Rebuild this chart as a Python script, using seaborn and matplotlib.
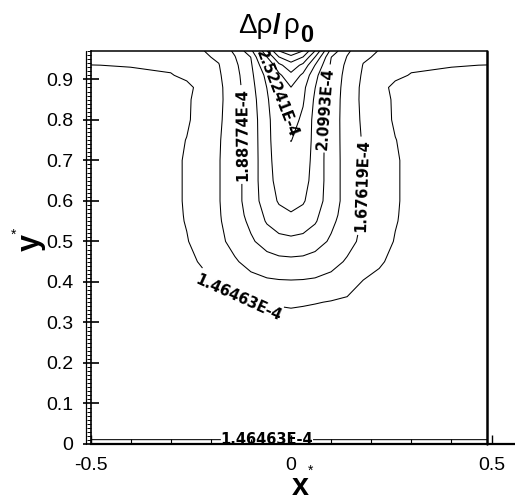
import numpy as np
import matplotlib
matplotlib.use("Agg")
import matplotlib.pyplot as plt
import seaborn as sns
from matplotlib.transforms import ScaledTranslation

# ---------------- data ----------------
# contour levels of delta-rho / rho0, in units of 1E-4
levels = [1.46463, 1.67619, 1.88774, 2.0993, 2.31085,
          2.52241, 2.73396, 2.94552, 3.15707, 3.36863]
level_step = 0.211555

# grid of the right half of the cavity (field is mirrored about x* = 0)
x_half = [0, 0.03, 0.06, 0.1, 0.14, 0.18, 0.22, 0.26, 0.3, 0.4, 0.5]
y_rows = [0, 0.025, 0.2, 0.3, 0.35, 0.4, 0.45, 0.5, 0.55, 0.565, 0.6,
          0.65, 0.7, 0.75, 0.8, 0.85, 0.88, 0.91, 0.935, 0.955, 0.97]
# field expressed as contour-level index (0 -> 1.46463E-4, 1 -> 1.67619E-4 ...)
k_half = [
    [0.3, 0.3, 0.3, 0.3, 0.3, 0.3, 0.3, 0.3, 0.3, 0.3, 0.3],
    [-0.4, -0.4, -0.4, -0.4, -0.4, -0.4, -0.4, -0.4, -0.4, -0.4, -0.4],
    [-0.4, -0.4, -0.4, -0.4, -0.4, -0.4, -0.4, -0.4, -0.4, -0.4, -0.4],
    [-0.5, -0.5, -0.5, -0.48, -0.46, -0.45, -0.45, -0.45, -0.45, -0.45, -0.45],
    [0.21, 0.13, 0.05, -0.05, -0.15, -0.25, -0.35, -0.4, -0.4, -0.4, -0.4],
    [0.92, 0.9, 0.85, 0.7, 0.4, -0.05, -0.2, -0.3, -0.35, -0.4, -0.4],
    [1.77, 1.74, 1.6, 1.3, 0.9, 0.5, 0.1, -0.2, -0.3, -0.4, -0.4],
    [2.76, 2.65, 2.4, 1.86, 1.29, 0.79, 0.37, -0.05, -0.3, -0.4, -0.4],
    [3.67, 3.55, 3.1, 2.22, 1.5, 0.9, 0.47, 0.05, -0.25, -0.4, -0.4],
    [3.95, 3.7, 3.2, 2.33, 1.55, 0.92, 0.48, 0.06, -0.22, -0.4, -0.4],
    [4.17, 4.1, 3.5, 2.49, 1.62, 0.95, 0.51, 0.08, -0.2, -0.4, -0.4],
    [4.46, 4.35, 3.63, 2.49, 1.62, 0.95, 0.51, 0.08, -0.2, -0.4, -0.4],
    [4.74, 4.55, 3.63, 2.49, 1.62, 0.95, 0.51, 0.08, -0.2, -0.4, -0.4],
    [5.02, 4.7, 3.67, 2.49, 1.6, 0.92, 0.45, 0.02, -0.22, -0.4, -0.4],
    [5.4, 4.8, 3.69, 2.51, 1.57, 0.85, 0.34, -0.1, -0.25, -0.4, -0.4],
    [5.77, 5.11, 3.83, 2.57, 1.56, 0.8, 0.27, -0.1, -0.2, -0.3, -0.3],
    [5.98, 5.25, 4.02, 2.65, 1.58, 0.81, 0.29, -0.21, -0.15, -0.12, -0.1],
    [6.75, 5.78, 4.29, 2.76, 1.65, 0.89, 0.53, 0.18, -0.05, -0.12, -0.12],
    [7.6, 6.75, 4.98, 2.86, 1.78, 0.97, 0.69, 0.42, 0.15, 0.03, -0.01],
    [8.67, 7.98, 5.98, 3.02, 1.96, 1.1, 0.9, 0.7, 0.5, 0.35, 0.3],
    [9.9, 8.98, 6.98, 3.67, 2.14, 1.46, 0.95, 0.8, 0.7, 0.55, 0.5],
]

# label texts and where they sit
label_levels = [1.46463, 1.46463, 1.67619, 1.88774, 2.0993, 2.52241]
label_texts = ["1.46463E-4", "1.46463E-4", "1.67619E-4", "1.88774E-4",
               "2.0993E-4", "2.52241E-4"]
label_x = [-0.06, -0.13, 0.165, -0.127, 0.062, -0.06]
label_y = [0.011, 0.363, 0.637, 0.764, 0.83, 0.862]

x_ticks = [-0.5, 0, 0.5]
x_ticklabels = ["-0.5", "0", "0.5"]
y_ticks = [0, 0.1, 0.2, 0.3, 0.4, 0.5, 0.6, 0.7, 0.8, 0.9]
y_ticklabels = ["0", "0.1", "0.2", "0.3", "0.4", "0.5", "0.6", "0.7", "0.8", "0.9"]

x_left, x_right, y_top = -0.5, 0.49, 0.97

# ---------------- build full grid ----------------
x_full = [-v for v in x_half[::-1]][:-1] + x_half
x_full[-1] = x_right
k_full = np.array([row[::-1][:-1] + row for row in k_half])
Z = levels[0] + k_full * level_step
X, Y = np.meshgrid(x_full, y_rows)

# ---------------- style ----------------
sns.set_theme(style="white")
plt.rcParams["font.family"] = ["Liberation Sans", "DejaVu Sans"]
for key in ["text.color", "axes.labelcolor", "xtick.color", "ytick.color"]:
    plt.rcParams[key] = "black"

W, H = 515, 501
fig = plt.figure(figsize=(W / 100, H / 100), dpi=100)
ax = fig.add_axes([90.5 / W, 57 / H, (W - 90.5) / W, 393 / H])
ax.set_facecolor("white")

# one contour set per level so that each can be labelled on its own
sets = {}
for lev in levels:
    sets[lev] = ax.contour(X, Y, Z, levels=[lev], colors="black", linewidths=0.75)

with plt.rc_context({"font.weight": "bold", "font.family": ["DejaVu Sans"]}):
    for lev, txt, lx, ly in zip(label_levels, label_texts, label_x, label_y):
        cs = sets[lev]
        cs.clabel(manual=[(lx, ly)], inline=True, inline_spacing=3,
                  fontsize=10.5, fmt={lev: txt})
        t = cs.labelTexts[-1]
        t.set_fontweight("bold")
        t.set_family("DejaVu Sans")
        r = t.get_rotation()
        if txt != "2.52241E-4" and 180 < r < 300:
            t.set_rotation(r - 180)

# domain boundary
ax.plot([x_right, x_right], [0, y_top], color="black", lw=1.8, clip_on=False)
ax.plot([x_left, x_right], [y_top, y_top], color="black", lw=1.1, clip_on=False)

ax.set_xlim(x_left, x_left + (W - 90.5) / 401)
ax.set_ylim(0, y_top)

for s in ["top", "right"]:
    ax.spines[s].set_visible(False)
ax.spines["left"].set_linewidth(1.2)
ax.spines["bottom"].set_linewidth(1.6)
ax.spines["left"].set_color("black")
ax.spines["bottom"].set_color("black")

ax.set_xticks(x_ticks)
ax.set_xticklabels(x_ticklabels)
ax.set_xticks([-0.4, -0.3, -0.2, -0.1, 0.1, 0.2, 0.3, 0.4], minor=True)
ax.set_yticks(y_ticks)
ax.set_yticklabels(y_ticklabels)
ax.set_yticks(np.arange(0, 0.9701, 0.01), minor=True)

ax.tick_params(axis="x", which="major", direction="in", length=6.5, width=1.0,
               pad=9, labelsize=14, bottom=True)
ax.tick_params(axis="x", which="minor", direction="in", length=3.5, width=0.8,
               bottom=True)
ax.tick_params(axis="y", which="major", direction="inout", length=12, width=1.2,
               pad=6.5, labelsize=14, left=True)
ax.tick_params(axis="y", which="minor", direction="out", length=3.2, width=0.7,
               left=True)

# outer rail of the ladder-like y axis
off = ScaledTranslation(-4.4 / 100, 0, fig.dpi_scale_trans)
ax.plot([0, 0], [0, y_top], color="black", lw=0.9, clip_on=False,
        transform=ax.get_yaxis_transform() + off)

# title  Δρ/ρ0  (pieces: regular, bold slash, regular, bold lowered subscript)
fig.text(238 / W, 1 - 33 / H, "Δρ", ha="left", va="baseline", fontsize=20)
fig.text(273 / W, 1 - 33 / H, "/", ha="left", va="baseline", fontsize=20,
         fontweight="bold")
fig.text(283 / W, 1 - 33 / H, "ρ", ha="left", va="baseline", fontsize=20)
fig.text(300 / W, 1 - 42 / H, "0", ha="left", va="baseline", fontsize=17,
         fontweight="bold")

# axis titles
fig.text(300 / W, 1 - 495 / H, "x", fontsize=22, fontweight="bold",
         ha="center", va="baseline")
fig.text(311 / W, 1 - 471 / H, "*", fontsize=10, ha="center", va="center")
fig.text(31 / W, 1 - 243 / H, "y", fontsize=22, fontweight="bold",
         ha="center", va="center", rotation=90)
fig.text(14 / W, 1 - 235 / H, "*", fontsize=10, ha="center", va="center")

fig.savefig("out.png", dpi=100, facecolor="white")
